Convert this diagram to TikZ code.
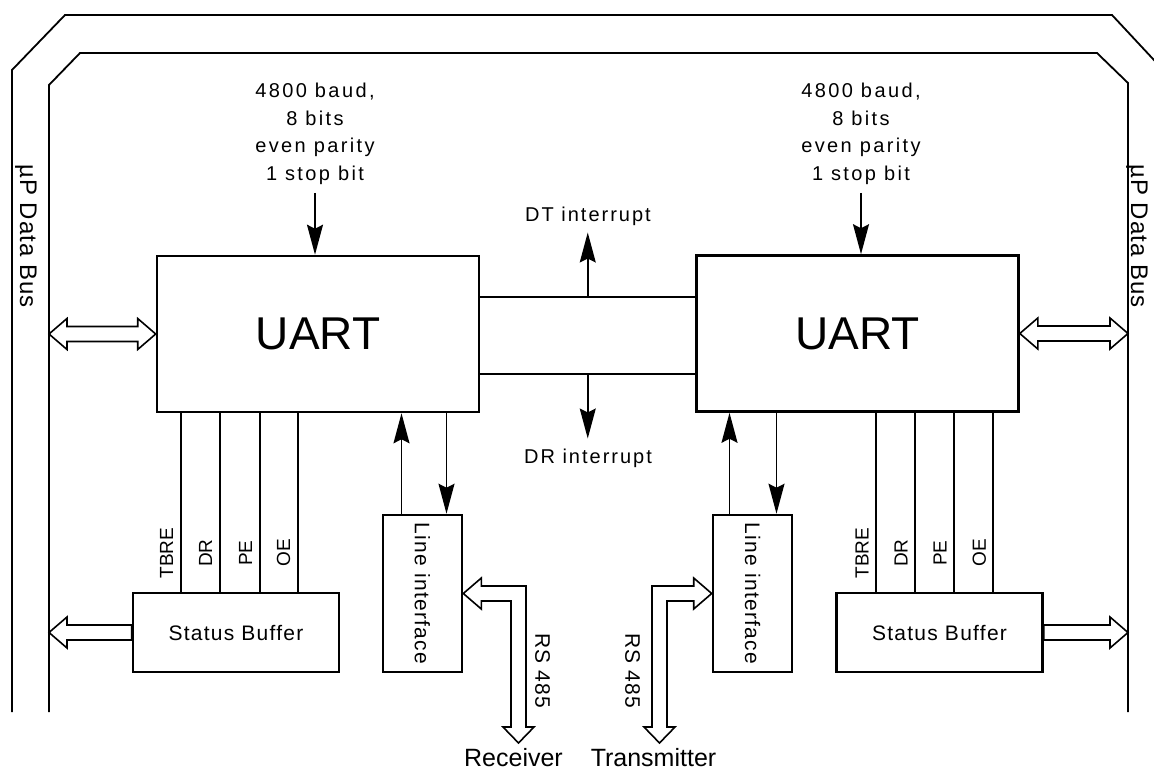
\documentclass[tikz,border=0pt]{standalone}
\usepackage{fontspec}
\setmainfont{Liberation Sans}
\newfontfamily\cfgfont[LetterSpace=12]{Liberation Sans}
\newfontfamily\irqfont[LetterSpace=10]{Liberation Sans}
\newfontfamily\boxfont[LetterSpace=6]{Liberation Sans}
\newfontfamily\busfont[LetterSpace=4]{Liberation Sans}
\usetikzlibrary{arrows.meta, positioning, calc}

\begin{document}
\begin{tikzpicture}[
    x=1pt, y=-1pt,
    block/.style={rectangle, draw=black, line width=2.6pt, inner sep=0pt},
    uart/.style={block, minimum width=322pt, minimum height=156pt, font=\fontsize{46}{50}\selectfont},
    buffer/.style={block, minimum width=206pt, minimum height=79pt, font=\boxfont\fontsize{21}{24}\selectfont},
    lineif/.style={block, minimum width=79pt, minimum height=157pt},
    cfg/.style={align=center, inner sep=8pt, font=\cfgfont\fontsize{20}{27.5}\selectfont},
    irq/.style={inner sep=0pt, font=\irqfont\fontsize{20}{24}\selectfont},
    flag/.style={rotate=90, inner sep=0pt, font=\fontsize{19}{22}\selectfont},
    vtxt/.style={rotate=-90, inner sep=0pt, font=\boxfont\fontsize{21}{24}\selectfont},
    buslbl/.style={rotate=-90, inner sep=0pt, font=\busfont\fontsize{24}{28}\selectfont},
    endlbl/.style={inner sep=0pt, font=\fontsize{25}{30}\selectfont},
    bus/.style={line width=1.8pt, line join=miter},
    wire/.style={line width=1.6pt},
    sig/.style={line width=1.6pt, -{Stealth[length=30pt, width=16pt, inset=4pt]}},
    hollow/.style={draw=black, line width=1.6pt, line join=miter}
]
\useasboundingbox (0,0) rectangle (1154,776);
\clip (0,0) rectangle (1154,776);

% data bus
\draw[bus] (12,712) -- (12,70) -- (65,15) -- (1112,15) -- (1167,74) -- (1167,712);
\draw[bus] (49,712) -- (49,85) -- (80,53) -- (1097,53) -- (1128,83) -- (1128,712);
\coordinate (busL) at (49,0);
\coordinate (busR) at (1128,0);
\node[buslbl] (busLtxt) at (26,236) {µP Data Bus};
\node[buslbl] (busRtxt) at (1137,236) {µP Data Bus};

% blocks
\node[uart] (uartL) at (318,334) {UART};
\node[uart] (uartR) at (857.5,333.5) {UART};
\node[buffer] (sbL) at (236,632.5) {Status Buffer};
\node[buffer] (sbR) at (939.5,632.5) {Status Buffer};
\node[lineif] (lineL) at (422.5,593.5) {};
\node[lineif] (lineR) at (752.5,593.5) {};
\node[vtxt] (lineLtxt) at (lineL) {Line interface};
\node[vtxt] (lineRtxt) at (lineR) {Line interface};

% settings
\node[cfg] (cfgL) at (315,134) {4800 baud,\\8 bits\\even parity\\1 stop bit};
\node[cfg] (cfgR) at (861,134) {4800 baud,\\8 bits\\even parity\\1 stop bit};
\draw[sig] (cfgL.south) -- (cfgL.south |- uartL.north);
\draw[sig] (cfgR.south) -- (cfgR.south |- uartR.north);

% interrupts
\draw[wire] ([yshift=37pt]uartL.east) coordinate (chT1) -- ([yshift=37pt]uartL.east -| uartR.west) coordinate (chT2);
\draw[wire] ([yshift=-40pt]uartL.east) coordinate (chB1) -- ([yshift=-40pt]uartL.east -| uartR.west) coordinate (chB2);
\coordinate (chTm) at ($(chT1)!0.5!(chT2)$);
\coordinate (chBm) at ($(chB1)!0.5!(chB2)$);
\node[irq] (dt) at (588,216) {DT interrupt};
\node[irq] (dr) at (588,458) {DR interrupt};
\draw[sig, shorten >=7pt] (chTm) -- (chTm |- dt.south);
\draw[sig, shorten >=10pt] (chBm) -- (chBm |- dr.north);

% UART <-> line interface
\draw[sig] ([xshift=-21pt]lineL.north) -- ([xshift=-21pt]lineL.north |- uartL.south);
\draw[sig] ([xshift=24pt]lineL.north |- uartL.south) -- ([xshift=24pt]lineL.north);
\draw[sig] ([xshift=-23pt]lineR.north) -- ([xshift=-23pt]lineR.north |- uartR.south);
\draw[sig] ([xshift=24pt]lineR.north |- uartR.south) -- ([xshift=24pt]lineR.north);

% status lines
\coordinate (flagrow) at (0,553);
\foreach \dx/\flg in {49/TBRE, 88/DR, 128/PE, 166/OE} {
  \draw[wire] ([xshift=\dx pt]sbL.north west) -- ([xshift=\dx pt]sbL.north west |- uartL.south);
  \node[flag] at ([xshift=\dx pt-14pt]sbL.north west |- flagrow) {\flg};
}
\foreach \dx/\flg in {41/TBRE, 80/DR, 119/PE, 158/OE} {
  \draw[wire] ([xshift=\dx pt]sbR.north west) -- ([xshift=\dx pt]sbR.north west |- uartR.south);
  \node[flag] at ([xshift=\dx pt-14pt]sbR.north west |- flagrow) {\flg};
}

% bus arrows
\draw[hollow] (uartL.west -| busL) -- ++(18,-15.5) -- ++(0,8) -- ($(uartL.west)+(-18,-7.5)$) -- ++(0,-8) -- (uartL.west)
  -- ++(-18,15.5) -- ++(0,-8) -- ($(uartL.west -| busL)+(18,7.5)$) -- ++(0,8) -- cycle;
\draw[hollow] (uartR.east) -- ++(18,-15.5) -- ++(0,8) -- ($(uartR.east -| busR)+(-18,-7.5)$) -- ++(0,-8) -- (uartR.east -| busR)
  -- ++(-18,15.5) -- ++(0,-8) -- ($(uartR.east)+(18,7.5)$) -- ++(0,8) -- cycle;
\draw[hollow] (sbL.west -| busL) -- ++(18,-15.5) -- ++(0,8) -- ($(sbL.west)+(0,-7.5)$) -- ($(sbL.west)+(0,7.5)$)
  -- ($(sbL.west -| busL)+(18,7.5)$) -- ++(0,8) -- cycle;
\draw[hollow] (sbR.east -| busR) -- ++(-18,-15.5) -- ++(0,8) -- ($(sbR.east)+(0,-7.5)$) -- ($(sbR.east)+(0,7.5)$)
  -- ($(sbR.east -| busR)+(-18,7.5)$) -- ++(0,8) -- cycle;

% RS 485
\coordinate (rxTip) at (518.5,743);
\coordinate (txTip) at (659.5,743);
\draw[hollow] (lineL.east) -- ++(18,-15.5) -- ++(0,8) -- ($(rxTip |- lineL.east)+(7.5,-7.5)$) -- ($(rxTip)+(7.5,-16)$)
  -- ++(8,0) -- (rxTip) -- ++(-15.5,-16) -- ++(8,0) -- ($(rxTip |- lineL.east)+(-7.5,7.5)$)
  -- ($(lineL.east)+(18,7.5)$) -- ++(0,8) -- cycle;
\draw[hollow] (lineR.west) -- ++(-18,-15.5) -- ++(0,8) -- ($(txTip |- lineR.west)+(-7.5,-7.5)$) -- ($(txTip)+(-7.5,-16)$)
  -- ++(-8,0) -- (txTip) -- ++(15.5,-16) -- ++(-8,0) -- ($(txTip |- lineR.west)+(7.5,7.5)$)
  -- ($(lineR.west)+(-18,7.5)$) -- ++(0,8) -- cycle;
\node[vtxt] (rsL) at (542.5,671) {RS 485};
\node[vtxt] (rsR) at (632.5,671) {RS 485};
\node[endlbl, below=5pt of rxTip, xshift=-5pt] (rx) {Receiver};
\node[endlbl, below=5pt of txTip, xshift=-6pt] (tx) {Transmitter};

\end{tikzpicture}
\end{document}
